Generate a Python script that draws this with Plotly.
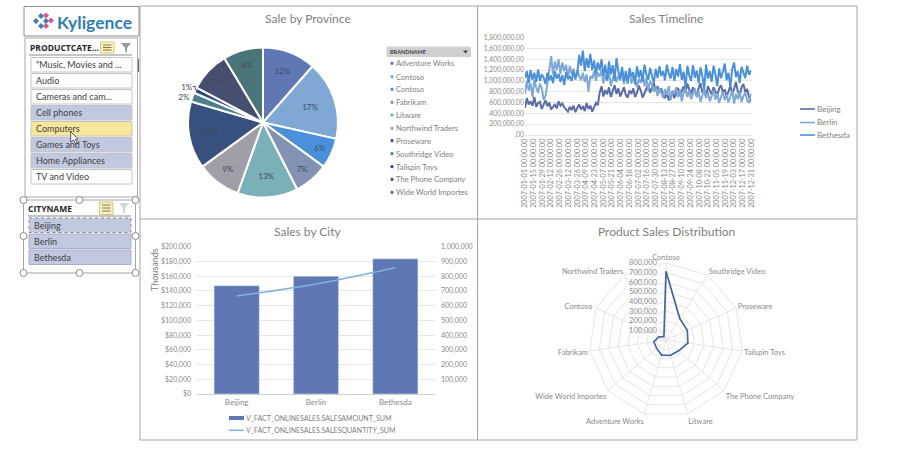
import plotly.graph_objects as go
from datetime import datetime, timedelta

W, H = 900, 455
FONT = "Lato"
GREY = "#808080"
TICK_GREY = "#8a8a8a"
GRID = "#e6e6e6"

# ---- pie data
brands = ["Adventure Works", "Contoso", "Contoso", "Fabrikam", "Litware", "Northwind Traders",
          "Proseware", "Southridge Video", "Tailspin Toys", "The Phone Company", "Wide World Importes"]
share = [11.5, 17, 6.5, 7.5, 13, 9.5, 14.5, 2, 1.2, 8.7, 8.6]
share_text = ["12%", "17%", "6%", "7%", "13%", "9%", "15%", "2%", "1%", "7%", "8%"]
pie_colors = ["#5f77b5", "#7fa8d5", "#4a90d9", "#8391b3", "#7ab1b9", "#a09fa9",
              "#37507d", "#4d7f8e", "#2a4a7c", "#474f71", "#4a7578"]

# ---- timeline data (thousands, one reading every three days)
cities = ["Beijing", "Berlin", "Bethesda"]
city_colors = ["#5a6ca6", "#7fa8d5", "#4a90d9"]
beijing = [500,680,560,620,540,700,520,590,610,480,
           560,640,530,600,470,510,560,490,620,540,
           580,510,470,430,520,460,540,420,500,560,
           470,530,440,590,480,540,430,510,590,550,
           780,900,710,830,750,880,700,810,920,760,
           860,710,790,880,740,690,820,760,860,700,
           780,910,820,690,770,860,940,780,870,960,
           820,900,780,860,740,680,790,640,720,800,
           680,760,870,720,830,900,780,950,840,760,
           880,800,720,860,960,780,840,700,900,820,
           750,880,800,730,860,920,780,840,700,820,
           910,760,850,980,810,720,880,940,790,850,
           700,620]
berlin = [760,1000,820,960,700,1020,880,780,950,860,
          650,720,950,1250,1460,1120,1360,1200,1400,1130,
          1340,1180,1300,1060,1280,1120,1230,1020,1200,1090,
          1010,1150,980,1120,800,1090,1040,1180,1000,1150,
          1080,1200,950,1100,1000,1180,900,1050,1150,980,
          1100,1010,1160,940,1080,1020,1170,950,1090,1000,
          880,1040,960,1130,900,1060,820,1000,930,800,
          900,720,860,780,680,850,740,900,640,820,
          760,880,700,840,620,790,860,700,820,660,
          780,860,690,810,610,750,840,680,790,620,
          740,820,650,770,590,720,800,640,750,600,
          700,820,580,760,660,800,610,720,780,640,
          590,760]
bethesda = [1050,1180,960,1200,1020,1150,980,1210,1000,1120,
            1060,940,1150,1010,1100,960,1180,1040,1130,980,
            1110,920,1160,1030,1090,1000,1180,1050,1130,1480,
            1280,1560,1180,1420,1240,1500,1200,1380,1120,1340,
            1200,1400,1090,1300,1010,1360,1120,1290,1000,1420,
            1180,1040,1260,1000,1180,950,1240,1080,1160,930,
            1270,1060,1200,980,1300,1120,1020,1240,1100,960,
            1220,1050,1270,1090,1180,1010,1300,1130,1040,1260,
            1000,1220,1080,1310,1020,1170,880,1280,1100,1000,
            1290,1060,1190,960,1250,1090,850,1300,1040,1180,
            980,1280,1120,900,1230,1050,1170,1320,1010,1150,
            890,1220,1340,1070,1180,960,1260,1130,1050,1280,
            1110,1190]
timeline_ticks = [0, 200000, 400000, 600000, 800000, 1000000, 1200000, 1400000, 1600000, 1800000]
timeline_ticktext = [".00", "200,000.00", "400,000.00", "600,000.00", "800,000.00", "1,000,000.00",
                     "1,200,000.00", "1,400,000.00", "1,600,000.00", "1,800,000.00"]

# ---- city data
amount = [147000, 160000, 183500]
quantity = [665000, 747000, 857000]
amount_ticks = [0, 20000, 40000, 60000, 80000, 100000, 120000, 140000, 160000, 180000, 200000]
quantity_ticks = [100000, 200000, 300000, 400000, 500000, 600000, 700000, 800000, 900000, 1000000]
city_series = ["V_FACT_ONLINESALES.SALESAMOUNT_SUM", "V_FACT_ONLINESALES.SALESQUANTITY_SUM"]

# ---- radar data
radar_cats = ["Contoso", "Southridge Video", "Proseware", "Tailspin Toys", "The Phone Company", "Litware",
              "Adventure Works", "Wide World Importes", "Fabrikam", "Contoso ", "Northwind Traders"]
radar_vals = [715000, 265000, 243000, 230000, 172000, 167000, 163000, 130000, 128000, 80000, 40000]
radar_ticks = [100000, 200000, 300000, 400000, 500000, 600000, 700000, 800000]

# ---- slicers
categories = ['"Music, Movies and ...', "Audio", "Cameras and cam...", "Cell phones", "Computers",
              "Games and Toys", "Home Appliances", "TV and Video"]
cat_state = ["off", "off", "off", "on", "hover", "on", "on", "off"]


def px(x):
    return x / W


def py(y):
    return 1 - y / H


shapes, notes = [], []


def rect(x0, y0, x1, y1, line="#a6a6a6", fill="rgba(0,0,0,0)", w=1, dash="solid"):
    shapes.append(dict(type="rect", xref="paper", yref="paper", x0=px(x0), x1=px(x1), y0=py(y0), y1=py(y1),
                       line=dict(color=line, width=w, dash=dash), fillcolor=fill))


def seg(x0, y0, x1, y1, color, w=1):
    shapes.append(dict(type="line", xref="paper", yref="paper", x0=px(x0), x1=px(x1), y0=py(y0), y1=py(y1),
                       line=dict(color=color, width=w)))


def poly(points, fill, line="rgba(0,0,0,0)", w=1):
    d = "M" + "L".join(f"{px(a):.5f},{py(b):.5f}" for a, b in points) + "Z"
    shapes.append(dict(type="path", xref="paper", yref="paper", path=d, fillcolor=fill, line=dict(color=line, width=w)))


def text(x, y, s, size=9, color=GREY, anchor="left", bold=False, angle=0, font=FONT):
    if bold:
        s = f"<b>{s}</b>"
    if anchor == "left":
        x -= 2
    notes.append(dict(xref="paper", yref="paper", x=px(x), y=py(y), text=s, showarrow=False, xanchor=anchor,
                      yanchor="middle", textangle=angle, font=dict(family=font, size=size, color=color)))


fig = go.Figure()

# pie
cx, cy, r = 263, 122.5, 75
fig.add_trace(go.Pie(
    labels=[b + " " * i for i, b in enumerate(brands)], values=share, text=share_text, textinfo="text",
    sort=False, direction="clockwise", rotation=0,
    marker=dict(colors=pie_colors, line=dict(color="white", width=2)),
    textposition=["inside"] * 7 + ["outside", "outside"] + ["inside"] * 2,
    insidetextorientation="horizontal",
    textfont=dict(family=FONT, size=8, color="#3f4a5f"),
    domain=dict(x=[px(cx - r), px(cx + r)], y=[py(cy + r), py(cy - r)]),
    showlegend=False,
))

# timeline
start = datetime(2007, 1, 1)
dates = [start + timedelta(days=3 * i) for i in range(len(beijing))]
for name, vals, col in zip(cities, [beijing, berlin, bethesda], city_colors):
    fig.add_trace(go.Scatter(x=dates, y=[v * 1000 for v in vals], name=name, mode="lines",
                             line=dict(color=col, width=2), xaxis="x", yaxis="y", showlegend=False))

# city
fig.add_trace(go.Bar(x=cities, y=amount, name=city_series[0], marker_color="#5f77b5", width=0.57,
                     xaxis="x2", yaxis="y2", showlegend=False))
fig.add_trace(go.Scatter(x=cities, y=quantity, name=city_series[1], mode="lines",
                         line=dict(color="#7fb3d9", width=1.5, shape="spline"),
                         xaxis="x2", yaxis="y3", showlegend=False))

# radar
fig.add_trace(go.Scatterpolar(r=radar_vals + radar_vals[:1], theta=radar_cats + radar_cats[:1], mode="lines",
                              line=dict(color="#44659f", width=1.7), showlegend=False))

# panels
rect(140, 6, 857, 440)
seg(477.5, 6, 477.5, 440, "#a6a6a6")
seg(140, 219, 857, 219, "#a6a6a6")
for xx, yy, s in [(308, 19, "Sale by Province"), (666, 19, "Sales Timeline"),
                  (308, 231.5, "Sales by City"), (666, 231.5, "Product Sales Distribution")]:
    text(xx, yy, s, 12, anchor="center")

# logo
rect(24, 6.5, 139, 36, line="#8c8c8c")
for (a, b, c) in [(36, 21, "#3b7fb5"), (41, 16, "#3b7fb5"), (41, 26, "#3b7fb5"), (46, 21, "#3b7fb5"),
                  (46, 15.5, "#d9558a"), (51, 20.5, "#d9558a"), (46, 26, "#d9558a")]:
    poly([(a - 3, b), (a, b - 3), (a + 3, b), (a, b + 3)], c)
text(57, 22, "Kyligence", 17.5, "#2f7fb5", bold=True)

# product slicer
rect(25, 38, 137.5, 197, line="#a6a6a6")
text(30, 47.5, "PRODUCTCATE...", 8.5, "#262626", bold=True, font="Open Sans")
seg(29, 55, 132, 55, "#8c8c8c")
rect(100.5, 42, 114, 53, line="#d9c77a", fill="#fbf0bd")
for yy in (45, 47.5, 50):
    seg(103, yy, 111.5, yy, "#7a7a50")
poly([(121, 43), (131, 43), (127, 48), (127, 53), (125, 51), (125, 48)], "#9a9a9a")
seg(138.5, 59, 138.5, 72, "#5f6f90", 1)
FILL = {"off": "#ffffff", "on": "#c1c9e0", "hover": "#f7e79d"}
for i, (c, st) in enumerate(zip(categories, cat_state)):
    y0 = 57.5 + 16 * i
    rect(31, y0, 132, y0 + 14.5, line="#c4c4c4", fill=FILL[st])
    text(36, y0 + 7.2, c, 9, "#404040")

# city slicer
rect(23.5, 200, 135.5, 273, line="#a6a6a6")
text(28, 208.5, "CITYNAME", 8.5, "#262626", bold=True, font="Open Sans")
seg(28, 216, 131, 216, "#8c8c8c")
rect(99.5, 202, 113, 214.5, line="#d9c77a", fill="#fbf0bd")
for yy in (205, 208, 211):
    seg(102, yy, 110.5, yy, "#7a7a50")
poly([(119, 203), (129, 203), (125, 208), (125, 214), (123, 212), (123, 208)], "#d4d4d4")
for i, c in enumerate(cities):
    y0 = 218 + 16 * i
    rect(29, y0, 131, y0 + 14.5, line="#8c8c8c" if i == 0 else "#a9b0c6", fill="#c1c9e0",
         dash="dot" if i == 0 else "solid")
    text(34, y0 + 7.2, c, 9, "#404040")
for (a, b) in [(23.5, 200), (79.5, 200), (135.5, 200), (23.5, 236), (135.5, 236), (23.5, 273), (79.5, 273), (135.5, 273)]:
    shapes.append(dict(type="circle", xref="paper", yref="paper", x0=px(a - 3.5), x1=px(a + 3.5), y0=py(b + 3.5),
                       y1=py(b - 3.5), line=dict(color="#8c8c8c", width=1), fillcolor="white"))
poly([(70.7, 131.7), (70.7, 142), (73.5, 140), (76, 144.5), (77.5, 143.5), (75.5, 139.5), (78, 139)], "white",
     line="#555555")

# pie legend
rect(387, 47, 470.5, 56.5, line="#d0d0d0", fill="#d0d0d0")
text(390, 51.8, "BRANDNAME", 5.5, "#404040", bold=True)
poly([(463, 50.5), (468, 50.5), (465.5, 53.5)], "#404040")
legend_y = [63.3, 76.7, 89.3, 102.3, 115, 128.3, 140.7, 153.7, 166.7, 179.3, 192.3]
for b, c, yy in zip(brands, pie_colors, legend_y):
    rect(391, yy - 1, 393, yy + 1, line=c, fill=c)
    text(396, yy, b, 7.6)

# timeline legend
for name, col, yy in zip(cities, city_colors, [109, 122.5, 135]):
    seg(800, yy, 815, yy, col, 1.6)
    text(817, yy, name, 8)

# city legend
seg(229, 418, 244, 418, "#5f77b5", 4)
seg(229, 430.3, 244, 430.3, "#7fb3d9", 1.5)
text(246, 418, city_series[0], 7)
text(246, 430.3, city_series[1], 7)
text(154, 270, "Thousands", 9, anchor="center", angle=-90)

tick = dict(family=FONT, size=7, color=TICK_GREY)
fig.update_layout(
    width=W, height=H, autosize=False, margin=dict(l=0, r=0, t=0, b=0, autoexpand=False),
    paper_bgcolor="white", plot_bgcolor="white",
    shapes=shapes, annotations=notes,
    xaxis=dict(domain=[px(525), px(751.5)], type="date", range=[start, datetime(2007, 12, 31)],
               tick0=start, dtick=14 * 86400000, tickformat="%Y-%m-%d %H:%M:%S", tickangle=-90,
               tickfont=dict(family=FONT, size=7.2, color=TICK_GREY), showgrid=False, showline=True,
               linecolor=GRID, ticks="", automargin=False),
    yaxis=dict(domain=[py(134.8), py(37.7)], range=[0, 1800000], tickvals=timeline_ticks,
               ticktext=timeline_ticktext, tickfont=dict(family=FONT, size=6.8, color=TICK_GREY),
               gridcolor=GRID, zeroline=False, showline=False, automargin=False),
    xaxis2=dict(domain=[px(197), px(435)], anchor="y2", type="category",
                tickfont=dict(family=FONT, size=8, color=TICK_GREY),
                showline=True, linecolor="#cfcfcf", showgrid=False, ticks="", automargin=False),
    yaxis2=dict(domain=[py(394), py(246.7)], anchor="x2", range=[0, 200000], tickvals=amount_ticks,
                tickformat="$,d", tickfont=tick, gridcolor=GRID, zeroline=False, ticklabelstandoff=5, automargin=False),
    yaxis3=dict(domain=[py(394), py(246.7)], anchor="x2", overlaying="y2", side="right", range=[0, 1000000],
                tickvals=quantity_ticks, tickformat=",d", tickfont=tick, showgrid=False, zeroline=False,
                ticklabelstandoff=5, automargin=False),
    polar=dict(
        domain=dict(x=[px(666 - 77), px(666 + 77)], y=[py(340 + 77), py(340 - 77)]),
        gridshape="linear", bgcolor="white",
        angularaxis=dict(direction="clockwise", rotation=90, categoryorder="array", categoryarray=radar_cats,
                         gridcolor=GRID, linecolor=GRID, tickfont=dict(family=FONT, size=7.5, color=TICK_GREY),
                         ticks=""),
        radialaxis=dict(range=[0, 800000], angle=90, tickangle=90, side="counterclockwise", tickvals=radar_ticks,
                        tickformat=",d", gridcolor=GRID, showline=False, ticks="outside", ticklen=6,
                        tickcolor="rgba(0,0,0,0)", tickfont=dict(family=FONT, size=7.5, color=TICK_GREY)),
    ),
)

fig.write_html("out.html", config={"displayModeBar": False}, post_script="document.body.style.margin='0';")
